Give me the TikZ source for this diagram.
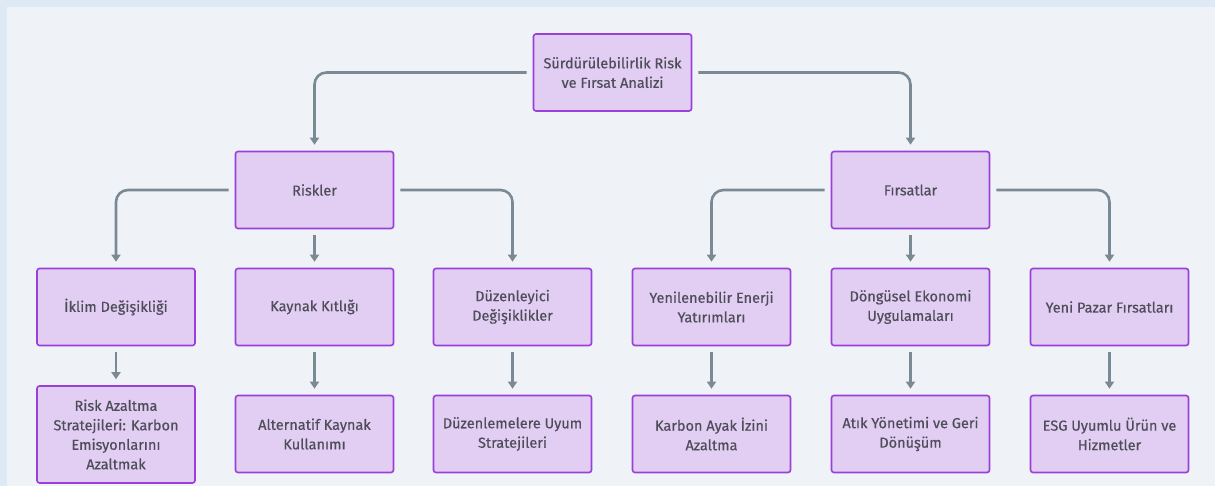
\documentclass[tikz,border=0pt]{standalone}
\usepackage{fontspec}
\setmainfont{Fira Sans}[FakeBold=0.5]
\usetikzlibrary{arrows.meta,positioning}
\definecolor{boxfill}{HTML}{E3CEF3}
\definecolor{boxline}{HTML}{9A3FD9}
\definecolor{linkgray}{HTML}{7B8994}
\definecolor{txtgray}{HTML}{4E4E5A}
\definecolor{framebg}{HTML}{DDE9F5}
\definecolor{panelbg}{HTML}{EFF3F7}
\begin{document}
\begin{tikzpicture}[x=1pt,y=-1pt,
    box/.style={draw=boxline,fill=boxfill,line width=1.6pt,rounded corners=2.5pt,
      minimum width=158pt,minimum height=77pt,inner sep=0pt,align=center,
      text=txtgray,font=\fontsize{14.5}{19.5}\selectfont},
    link/.style={draw=linkgray,line width=2.6pt,rounded corners=12pt,
      -{Triangle[width=9pt,length=7pt]}}]
    % frame
    \fill[framebg] (0,0) rectangle (1215,486);
    \fill[panelbg] (7,7) rectangle (1215,486);
    % top
    \node[box] (root) at (612.5,72.5) {Sürdürülebilirlik Risk\\ve Fırsat Analizi};
    \node[box] (risk) at (314.5,190) {Riskler};
    \node[box] (firsat) at (910.5,190) {Fırsatlar};
    % risks
    \node[box] (iklim) at (116,307) {İklim Değişikliği};
    \node[box] (kaynak) at (314.5,307) {Kaynak Kıtlığı};
    \node[box] (duzen) at (512.5,307) {Düzenleyici\\Değişiklikler};
    \node[box,minimum height=97pt] (azalt) at (116,434.5) {Risk Azaltma\\Stratejileri: Karbon\\Emisyonlarını\\Azaltmak};
    \node[box] (alter) at (314.5,434) {Alternatif Kaynak\\Kullanımı};
    \node[box] (uyum) at (512.5,434) {Düzenlemelere Uyum\\Stratejileri};
    % opportunities
    \node[box] (yenile) at (711.5,307) {Yenilenebilir Enerji\\Yatırımları};
    \node[box] (dongu) at (910.5,307) {Döngüsel Ekonomi\\Uygulamaları};
    \node[box] (pazar) at (1109.5,307) {Yeni Pazar Fırsatları};
    \node[box] (karbon) at (711.5,434) {Karbon Ayak İzini\\Azaltma};
    \node[box] (atik) at (910.5,434) {Atık Yönetimi ve Geri\\Dönüşüm};
    \node[box] (esg) at (1109.5,434) {ESG Uyumlu Ürün ve\\Hizmetler};
    % links
    \draw[link] ([xshift=-6pt]root.west) -| ([yshift=6pt]risk.north);
    \draw[link] ([xshift=6pt]root.east) -| ([yshift=6pt]firsat.north);
    \draw[link] ([xshift=-6pt]risk.west) -| ([yshift=6pt]iklim.north);
    \draw[link] ([xshift=6pt]risk.east) -| ([yshift=6pt]duzen.north);
    \draw[link] ([xshift=-6pt]firsat.west) -| ([yshift=6pt]yenile.north);
    \draw[link] ([xshift=6pt]firsat.east) -| ([yshift=6pt]pazar.north);
    \foreach \a/\b in {risk/kaynak,firsat/dongu,iklim/azalt,kaynak/alter,duzen/uyum,
      yenile/karbon,dongu/atik,pazar/esg}
      \draw[link] ([yshift=-6pt]\a.south) -- ([yshift=6pt]\b.north);
\end{tikzpicture}
\end{document}
